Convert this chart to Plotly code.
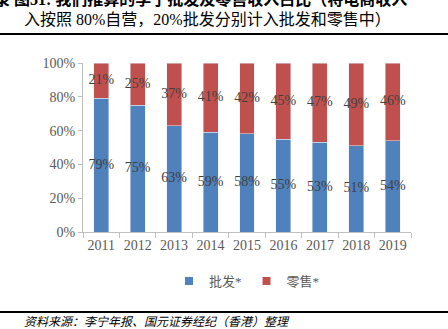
import plotly.graph_objects as go

years = ["2011", "2012", "2013", "2014", "2015", "2016", "2017", "2018", "2019"]
wholesale = [79, 75, 63, 59, 58, 55, 53, 51, 54]
retail = [21, 25, 37, 41, 42, 45, 47, 49, 46]
series_names = ["批发*", "零售*"]
y_ticks = [0, 20, 40, 60, 80, 100]
y_tick_labels = [f"{v}%" for v in y_ticks]

BLUE = "#4F81BD"
RED = "#C0504D"
SERIF = "Liberation Serif, Noto Sans CJK SC"

fig = go.Figure()
fig.add_trace(go.Bar(x=years, y=wholesale, marker_color=BLUE, showlegend=False))
fig.add_trace(go.Bar(x=years, y=retail, marker_color=RED, showlegend=False))

# centered labels
fig.add_trace(go.Scatter(
    x=years, y=[w / 2 for w in wholesale], mode="text",
    text=[f"{w}%" for w in wholesale], showlegend=False, hoverinfo="skip",
    textfont=dict(family=SERIF, size=14, color="#404040")))
fig.add_trace(go.Scatter(
    x=years, y=[w + r / 2 for w, r in zip(wholesale, retail)], mode="text",
    text=[f"{r}%" for r in retail], showlegend=False, hoverinfo="skip",
    textfont=dict(family=SERIF, size=14, color="#404040")))

# legend entries
for name, col in zip(series_names, [BLUE, RED]):
    fig.add_trace(go.Scatter(x=[None], y=[None], mode="markers", name=name,
                             marker=dict(symbol="square", size=8, color=col)))

fig.update_layout(
    width=448, height=329,
    margin=dict(l=83, r=37, t=63, b=97),
    barmode="stack", bargap=0.59,
    paper_bgcolor="white", plot_bgcolor="white",
    showlegend=True,
    legend=dict(orientation="h", x=0.5, xanchor="center", xref="paper",
                y=-0.29, yanchor="middle", traceorder="normal",
                font=dict(family=SERIF, size=13, color="#595959"),
                itemwidth=30, tracegroupgap=0),
    xaxis=dict(type="category", showline=True, linecolor="#BFBFBF", linewidth=1,
               ticks="outside", tickson="boundaries", ticklen=5, tickcolor="#BFBFBF",
               tickangle=0,
               tickfont=dict(family=SERIF, size=14, color="#595959"),
               showgrid=False),
    yaxis=dict(range=[0, 100], tickvals=y_ticks, ticktext=y_tick_labels,
               showline=True, linecolor="#BFBFBF", linewidth=1,
               ticks="outside", ticklen=4, tickcolor="#BFBFBF",
               tickfont=dict(family=SERIF, size=14, color="#595959"),
               showgrid=False, zeroline=False),
    font=dict(family=SERIF),
)

fig.add_annotation(xref="paper", yref="paper", x=-83 / 328 - 8 / 328, xanchor="left",
                   y=1 + (63 + 1) / 169, yanchor="middle", showarrow=False,
                   text="<b>录 图31: 我们推算的李宁批发及零售收入占比（将电商收入</b>",
                   font=dict(family=SERIF, size=16, color="#000000"))
fig.add_annotation(xref="paper", yref="paper", x=(207 - 83) / 328, xanchor="center",
                   y=1 + (63 - 19) / 169, yanchor="middle", showarrow=False,
                   text="入按照 80%自营，20%批发分别计入批发和零售中）",
                   font=dict(family=SERIF, size=16, color="#000000"))
fig.add_annotation(xref="paper", yref="paper", x=(22 - 83) / 328, xanchor="left",
                   y=-(322 - 232) / 169, yanchor="middle", showarrow=False,
                   text="<i>资料来源：李宁年报、国元证券经纪（香港）整理</i>",
                   font=dict(family=SERIF, size=12, color="#000000"))

fig.add_shape(type="line", xref="paper", yref="paper",
              x0=-83 / 328, x1=1 + 37 / 328, y0=1 + (63 - 34) / 169, y1=1 + (63 - 34) / 169,
              line=dict(color="#000000", width=2))
fig.add_shape(type="line", xref="paper", yref="paper",
              x0=-83 / 328, x1=1 + 37 / 328, y0=-(312 - 232) / 169, y1=-(312 - 232) / 169,
              line=dict(color="#000000", width=2))

fig.write_html("out.html")
